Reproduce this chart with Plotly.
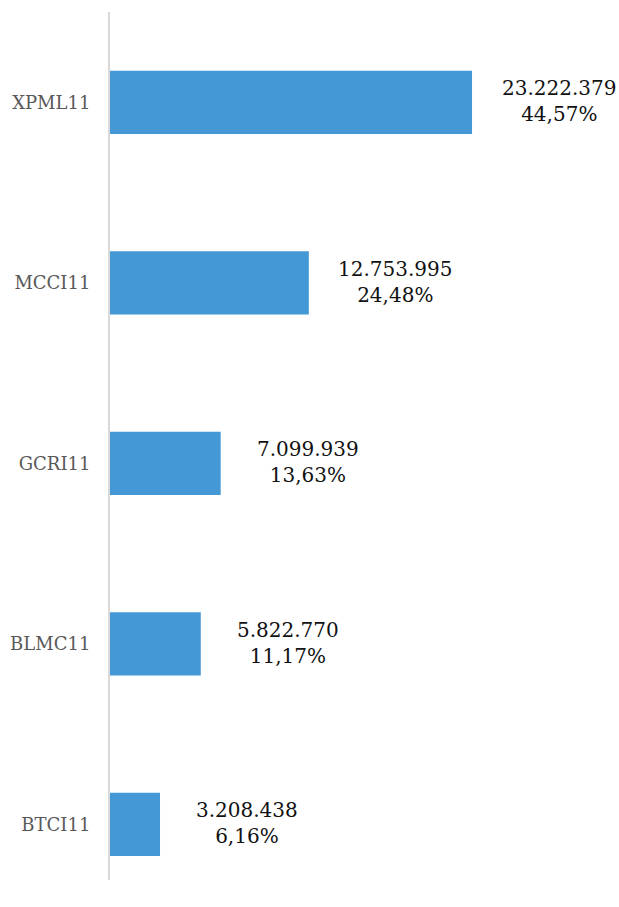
import plotly.graph_objects as go

tickers = ["XPML11", "MCCI11", "GCRI11", "BLMC11", "BTCI11"]
values = [23222379, 12753995, 7099939, 5822770, 3208438]
value_labels = ["23.222.379", "12.753.995", "7.099.939", "5.822.770", "3.208.438"]
pct_labels = ["44,57%", "24,48%", "13,63%", "11,17%", "6,16%"]

FONT = "DejaVu Serif"

fig = go.Figure()
fig.add_trace(go.Bar(
    x=values, y=tickers, orientation="h",
    marker=dict(color="#4598d6", line=dict(width=0)),
    width=0.35, hoverinfo="skip",
))

for t, v, vl, pl in zip(tickers, values, value_labels, pct_labels):
    fig.add_annotation(
        x=v, y=t, xref="x", yref="y",
        text=f"{vl}<br>{pl}", showarrow=False,
        xanchor="center", yanchor="middle", align="center",
        xshift=87, yshift=1,
        font=dict(family=FONT, size=20, color="#111111"),
    )

fig.update_layout(
    width=619, height=907,
    margin=dict(l=110, r=0, t=12, b=27),
    paper_bgcolor="white", plot_bgcolor="white",
    showlegend=False,
    xaxis=dict(range=[0, 32650000], visible=False, fixedrange=True),
    yaxis=dict(
        type="category", categoryorder="array", categoryarray=tickers,
        range=[4.308, -0.501],
        showline=True, linewidth=2, linecolor="#d9d9d9",
        showgrid=False, zeroline=False, ticks="",
        ticklabelstandoff=14, fixedrange=True,
        tickfont=dict(family=FONT, size=18, color="#595959"),
    ),
)

fig.write_html("out.html", config={"displayModeBar": False, "staticPlot": True})

with open("out.html", "r", encoding="utf-8") as f:
    html = f.read()
html = html.replace("<head>", "<head><style>html,body{margin:0;padding:0;overflow:hidden;}</style>", 1)
with open("out.html", "w", encoding="utf-8") as f:
    f.write(html)
